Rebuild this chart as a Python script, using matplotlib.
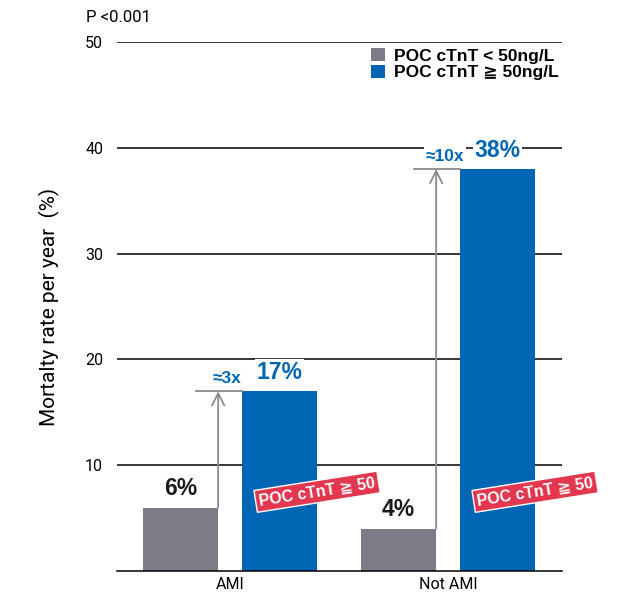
import matplotlib
matplotlib.use("Agg")
import matplotlib.pyplot as plt
import numpy as np

categories = ["AMI", "Not AMI"]
low_vals = [6, 4]
high_vals = [17, 38]
low_labels = ["6%", "4%"]
high_labels = ["17%", "38%"]
ratio_labels = ["≈3x", "≈10x"]
legend_labels = ["POC cTnT < 50ng/L", "POC cTnT ≧ 50ng/L"]
yticks = [10, 20, 30, 40, 50]
badge_text = "POC cTnT ≧ 50"
pval_text = "P <0.001"
ylabel = "Mortalty rate per year  (%)"

GRAY = "#7b7c87"
BLUE = "#0066b3"
RED = "#e3374f"
FAM = ["Liberation Sans", "DejaVu Sans"]

fig = plt.figure(figsize=(6.17, 5.96), dpi=100)
ax = fig.add_axes([0.1896, 0.0419, 0.7212, 0.8876])

x = np.arange(len(categories))
w = 0.344
off = 0.226
ax.set_xlim(-0.518, 1.523)
ax.set_ylim(0, 50)

for yv in yticks:
    ax.axhline(yv, color="black", lw=1.1, zorder=0)

ax.bar(x - off, low_vals, w, color=GRAY, zorder=2, label=legend_labels[0])
ax.bar(x + off, high_vals, w, color=BLUE, zorder=2, label=legend_labels[1])

for i in range(len(categories)):
    gx = x[i] - off + w / 2
    bx = x[i] + off - w / 2
    ax.annotate("", xy=(gx, high_vals[i]), xytext=(gx, low_vals[i]),
                arrowprops=dict(arrowstyle="->", color="#8a8a8f", lw=1.3,
                                mutation_scale=22, shrinkA=0, shrinkB=0),
                zorder=3)
    ax.plot([gx - 0.1, bx], [high_vals[i], high_vals[i]], color="#8a8a8f",
            lw=1.3, zorder=3)
    ax.text(x[i] - off, low_vals[i] + 0.7, low_labels[i], ha="center",
            va="bottom", fontsize=16.5, fontweight="bold", color="#1a1a1a",
            family=FAM, zorder=4)
    ax.text(x[i] + off, high_vals[i] + 0.7, high_labels[i], ha="center",
            va="bottom", fontsize=16.5, fontweight="bold", color=BLUE,
            family=FAM, zorder=4,
            bbox=dict(facecolor="white", edgecolor="none", pad=1))
    ax.text(gx + 0.04, high_vals[i] + 0.5, ratio_labels[i], ha="center",
            va="bottom", fontsize=12.5, fontweight="bold", color=BLUE,
            family=FAM, zorder=4,
            bbox=dict(facecolor="white", edgecolor="none", pad=1))
    ax.text(x[i] + 0.40, 7.5, badge_text, ha="center", va="center",
            rotation=9, fontsize=11.5, fontweight="bold", color="white",
            family=FAM, zorder=5,
            bbox=dict(facecolor=RED, edgecolor="white", pad=2.5, lw=1))

ax.set_xticks(x)
ax.set_xticklabels(categories, fontsize=11.5, family=["Roboto", "DejaVu Sans"])
ax.set_yticks(yticks)
ax.set_yticklabels([str(v) for v in yticks], fontsize=11.5,
                   family=["Roboto", "DejaVu Sans"])
ax.tick_params(length=0, pad=10)
ax.tick_params(axis="x", pad=4)
for s in ["top", "right", "left"]:
    ax.spines[s].set_visible(False)
ax.spines["bottom"].set_color("black")
ax.spines["bottom"].set_linewidth(1.1)

ax.set_ylabel(ylabel, fontsize=15, family=["Roboto", "DejaVu Sans"], labelpad=18)

fig.text(86 / 617, 1 - 17 / 596, pval_text, fontsize=12, va="center",
         family=["Roboto", "DejaVu Sans"])

leg = ax.legend(loc="upper right", bbox_to_anchor=(1.0, 0.995), frameon=False,
                prop=dict(family=FAM, weight="bold", size=12.5),
                handlelength=0.8, handleheight=0.8, handletextpad=0.5,
                labelspacing=0.05, borderaxespad=0.0, borderpad=0.2)

fig.savefig("out.png", dpi=100)
